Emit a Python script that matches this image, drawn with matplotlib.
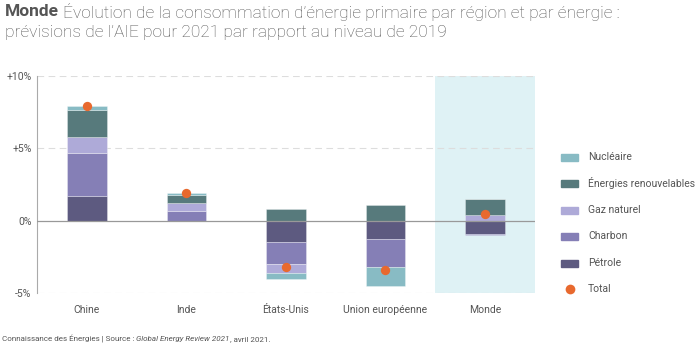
import matplotlib
matplotlib.use("Agg")
import matplotlib.pyplot as plt
from matplotlib.patches import Rectangle
import numpy as np

plt.rcParams['font.family'] = ['Roboto', 'DejaVu Sans']

regions = ["Chine", "Inde", "États-Unis", "Union européenne", "Monde"]
series_names = ["Pétrole", "Charbon", "Gaz naturel", "Énergies renouvelables", "Nucléaire"]
petrole = [1.69, 0.0, -1.50, -1.30, -0.93]
charbon = [3.00, 0.65, -1.50, -1.92, -0.07]
gaz = [1.06, 0.53, -0.62, 0.0, 0.39]
renouv = [1.90, 0.60, 0.81, 1.06, 1.09]
nucleaire = [0.28, 0.16, -0.44, -1.27, 0.03]
total = [7.94, 1.90, -3.22, -3.45, 0.46]
yticks = [-5, 0, 5, 10]
ytick_labels = ["-5%", "0%", "+5%", "+10%"]

colors = {"Pétrole": "#5d5a80", "Charbon": "#857fb6", "Gaz naturel": "#aeaad8",
          "Énergies renouvelables": "#577a7c", "Nucléaire": "#88bbc4"}
total_color = "#e8692e"
gray_text = "#555555"

fig = plt.figure(figsize=(7, 3.45), dpi=100)
ax = fig.add_axes([0.053, 0.151, 0.711, 0.629])

x = np.arange(len(regions))
ax.axvspan(3.5, 4.5, ymin=0, ymax=1, color="#dff2f5", zorder=0, lw=0)

data = [petrole, charbon, gaz, renouv, nucleaire]
pos_base = np.zeros(len(regions))
neg_base = np.zeros(len(regions))
for name, vals in zip(series_names, data):
    vals = np.array(vals)
    bottoms = np.where(vals >= 0, pos_base, neg_base)
    ax.bar(x, vals, bottom=bottoms, width=0.4, color=colors[name],
           edgecolor=(1, 1, 1, 0.35), linewidth=0.6, zorder=3)
    pos_base = pos_base + np.where(vals >= 0, vals, 0)
    neg_base = neg_base + np.where(vals < 0, vals, 0)

ax.scatter(x, total, s=45, color=total_color, zorder=5, linewidths=0)

ax.set_xlim(-0.5, 4.5)
ax.set_ylim(-5, 10)
for yv in [-5, 5, 10]:
    ax.axhline(yv, color="#dddddd", lw=0.8, ls=(0, (6, 4)), zorder=1)
ax.axhline(0, color="#999999", lw=0.9, zorder=4)

for s in ["top", "right", "bottom"]:
    ax.spines[s].set_visible(False)
ax.spines["left"].set_color("#aaaaaa")
ax.spines["left"].set_linewidth(0.8)
ax.set_yticks(yticks)
ax.set_yticklabels(ytick_labels)
ax.set_xticks(x)
ax.set_xticklabels(regions)
ax.tick_params(axis="y", length=0, pad=4, labelsize=7.5, labelcolor=gray_text)
ax.tick_params(axis="x", length=0, pad=9, labelsize=7.5, labelcolor=gray_text)

# Legend (manual)
leg_items = ["Nucléaire", "Énergies renouvelables", "Gaz naturel", "Charbon", "Pétrole"]
leg_y = [157, 183, 210, 236, 263]
for name, yy in zip(leg_items, leg_y):
    fy = 1 - yy / 345
    fig.add_artist(Rectangle((561 / 700, fy - 3.5 / 345), 17 / 700, 7 / 345,
                             transform=fig.transFigure, color=colors[name]))
    fig.text(588 / 700, fy, name, fontsize=7.5, color=gray_text, va="center", ha="left")
fy = 1 - 289 / 345
fig.add_artist(plt.Line2D([569.5 / 700], [fy], marker="o", markersize=7,
                          color=total_color, markeredgewidth=0, transform=fig.transFigure))
fig.text(588 / 700, fy, "Total", fontsize=7.5, color=gray_text, va="center", ha="left")

# Title
fig.canvas.draw()
r = fig.canvas.get_renderer()
t1 = fig.text(5 / 700, 1 - 12 / 345, "Monde", fontsize=12.5, fontweight="bold",
              color=gray_text, va="center", ha="left")
bb = t1.get_window_extent(r)
fig.text((bb.x1 + 4) / 700, 1 - 12 / 345,
         "Évolution de la consommation d’énergie primaire par région et par énergie :",
         fontsize=12.5, fontweight="light", color=gray_text, va="center", ha="left")
fig.text(5 / 700, 1 - 32 / 345, "prévisions de l’AIE pour 2021 par rapport au niveau de 2019",
         fontsize=12.5, fontweight="light", color=gray_text, va="center", ha="left")

# Footer
fy = 1 - 339 / 345
f1 = fig.text(2 / 700, fy, "Connaissance des Énergies | Source : ", fontsize=5.8,
              color=gray_text, va="center", ha="left")
bb = f1.get_window_extent(r)
f2 = fig.text(bb.x1 / 700, fy, "Global Energy Review 2021", fontsize=5.8, style="italic",
              color=gray_text, va="center", ha="left")
bb = f2.get_window_extent(r)
fig.text(bb.x1 / 700, fy, ", avril 2021.", fontsize=5.8,
         color=gray_text, va="center", ha="left")

fig.savefig("out.png", dpi=100)
